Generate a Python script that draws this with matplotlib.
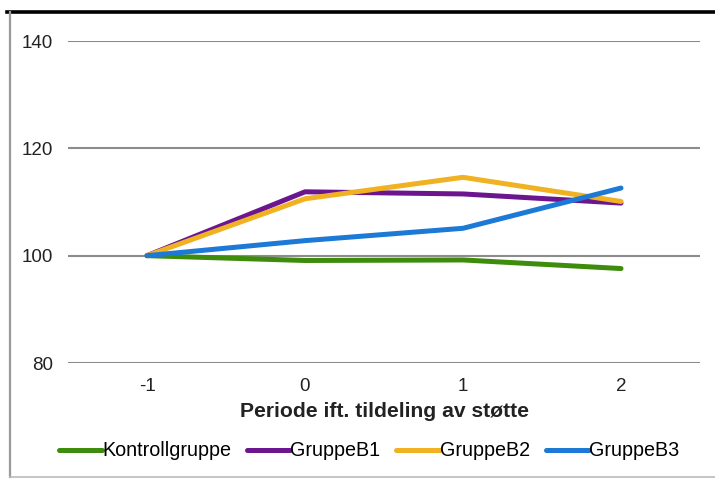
import matplotlib

matplotlib.use("Agg")
import matplotlib.pyplot as plt
from matplotlib.lines import Line2D

plt.rcParams["font.family"] = ["Liberation Sans", "DejaVu Sans"]

periods = [-1, 0, 1, 2]
period_labels = ["-1", "0", "1", "2"]
kontroll = [100.0, 99.1, 99.2, 97.6]
gruppe_b1 = [100.0, 111.9, 111.5, 109.8]
gruppe_b2 = [100.0, 110.6, 114.6, 110.1]
gruppe_b3 = [100.0, 102.8, 105.1, 112.6]
y_ticks = [80, 100, 120, 140]

GREEN, PURPLE, YELLOW, BLUE = "#3d8c0c", "#6b168f", "#f0b222", "#1c7ad6"
GRID = "#8c8c8c"
W, H = 715, 479


def fx(px):
    return px / W


def fy(py):
    return 1 - py / H


fig = plt.figure(figsize=(W / 100, H / 100), dpi=100)
ax = fig.add_axes([fx(68), fy(363), fx(700) - fx(68), fy(41) - fy(363)])

series = [
    ("Kontrollgruppe", kontroll, GREEN),
    ("GruppeB1", gruppe_b1, PURPLE),
    ("GruppeB2", gruppe_b2, YELLOW),
    ("GruppeB3", gruppe_b3, BLUE),
]
for name, vals, color in series:
    ax.plot(periods, vals, color=color, lw=3.6, label=name, solid_capstyle="round",
            solid_joinstyle="round")

ax.set_xlim(-1.5, 2.5)
ax.set_ylim(80, 140)
ax.set_yticks(y_ticks)
ax.set_xticks(periods)
ax.set_xticklabels(period_labels)
ax.tick_params(length=0, labelsize=13.5, colors="#222222")
ax.tick_params(axis="y", pad=11)
ax.tick_params(axis="x", pad=11)
for s in ax.spines.values():
    s.set_visible(False)
ax.grid(axis="y", color=GRID, lw=1.5)
ax.set_axisbelow(True)
ax.set_xlabel("Periode ift. tildeling av støtte", fontsize=15.2, fontweight="bold",
              color="#222222", labelpad=5)

fig.legend(loc="center", bbox_to_anchor=(fx(369), fy(451)), ncol=4, frameon=False,
           fontsize=14.2, handlelength=2.2, handletextpad=0.0, columnspacing=0.8)

# frame of the screenshot
fig.add_artist(Line2D([fx(7), 1], [fy(12), fy(12)], color="black", lw=2.6,
                      transform=fig.transFigure))
fig.add_artist(Line2D([fx(10), fx(10)], [fy(12), fy(477)], color="#9a9a9a", lw=1.6,
                      transform=fig.transFigure))
fig.add_artist(Line2D([fx(10), 1], [fy(477), fy(477)], color="#bbbbbb", lw=1.2,
                      transform=fig.transFigure))

fig.savefig("out.png", dpi=100)
